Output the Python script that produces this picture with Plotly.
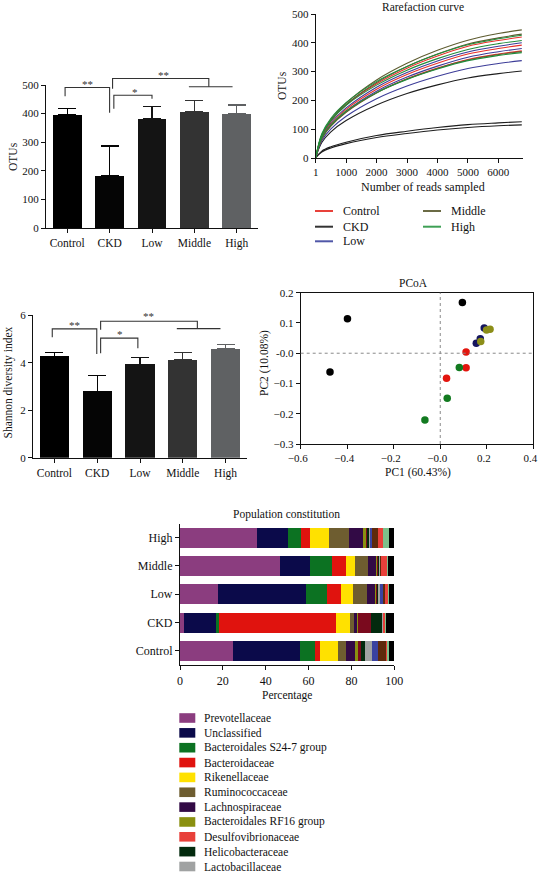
import plotly.graph_objects as go

W, H = 538, 875
FONT = "Liberation Serif"
INK = "#111111"


def PX(x):
    return x / W


def PY(y):
    return 1 - y / H


# ---------------- data ----------------
groups = ["Control", "CKD", "Low", "Middle", "High"]
bar_colors = ["#000000", "#050505", "#141414", "#333333", "#5f6163"]

otus_mean = [395, 182, 381, 406, 400]
otus_sd = [23, 105, 44, 40, 30]

shannon_mean = [4.27, 2.80, 3.94, 4.13, 4.58]
shannon_sd = [0.16, 0.67, 0.27, 0.29, 0.20]

reads = [1, 200, 500, 1000, 2000, 3000, 4000, 5000, 6000, 6770]
rare_control = [
    [1, 78, 129, 185, 258, 312, 354, 388, 408, 420],
    [1, 71, 118, 169, 239, 290, 329, 361, 380, 392],
    [1, 67, 112, 160, 227, 275, 312, 342, 361, 372],
]
rare_ckd = [
    [1, 54, 91, 130, 184, 224, 254, 278, 293, 302],
    [1, 24, 39, 55, 78, 93, 106, 116, 122, 126],
    [1, 21, 35, 50, 71, 85, 97, 106, 112, 115],
]
rare_low = [
    [1, 74, 122, 174, 246, 297, 337, 368, 388, 400],
    [1, 68, 114, 163, 232, 281, 319, 350, 369, 380],
    [1, 60, 101, 145, 206, 250, 284, 311, 328, 338],
]
rare_middle = [
    [1, 80, 134, 191, 271, 329, 374, 409, 432, 445],
    [1, 77, 129, 185, 262, 318, 361, 396, 417, 430],
    [1, 67, 111, 159, 226, 274, 311, 340, 359, 370],
]
rare_high = [
    [1, 84, 138, 192, 266, 318, 360, 393, 414, 426],
    [1, 80, 131, 183, 253, 305, 345, 377, 397, 408],
    [1, 70, 115, 163, 227, 273, 309, 338, 356, 366],
]
rare_colors = ["#e8302a", "#1e1e1e", "#3c3c98", "#5e5c30", "#228c3c"]
legend_line_colors = ["#e8413a", "#333333", "#5057a8", "#6b6b45", "#3ea055"]

pc1_control = [0.111, 0.111, 0.027]
pc2_control = [0.004, -0.048, -0.083]
pc1_ckd = [-0.474, -0.399, 0.095]
pc2_ckd = [-0.062, 0.114, 0.168]
pc1_low = [0.189, 0.172, 0.155]
pc2_low = [0.083, 0.048, 0.033]
pc1_middle = [0.199, 0.214, 0.174]
pc2_middle = [0.077, 0.079, 0.039]
pc1_high = [0.082, 0.030, -0.066]
pc2_high = [-0.047, -0.149, -0.221]
pcoa_colors = ["#e3150e", "#000000", "#15155e", "#8c8e18", "#127a20"]

families = [
    "Prevotellaceae", "Unclassified", "Bacteroidales S24-7 group", "Bacteroidaceae",
    "Rikenellaceae", "Ruminococcaceae", "Lachnospiraceae", "Bacteroidales RF16 group",
    "Erysipelotrichaceae", "Helicobacteraceae", "Lactobacillaceae", "Porphyromonadaceae",
    "Christensenellaceae", "Desulfovibrionaceae", "Veillonellaceae", "Others",
]
# percentages in group order: Control, CKD, Low, Middle, High
abund_prevotellaceae = [24.5, 2.0, 17.6, 46.7, 36.0]
abund_unclassified = [31.3, 14.8, 41.0, 14.1, 14.2]
abund_s24_7 = [7.1, 1.6, 10.0, 10.0, 6.2]
abund_bacteroidaceae = [2.3, 54.3, 6.4, 6.8, 4.3]
abund_rikenellaceae = [8.5, 6.5, 5.9, 4.1, 9.0]
abund_ruminococcaceae = [3.6, 2.1, 6.5, 6.2, 9.2]
abund_lachnospiraceae = [4.8, 1.7, 3.6, 3.6, 6.7]
abund_rf16 = [0.9, 0.2, 0.6, 0.3, 1.2]
abund_erysipelotrichaceae = [1.3, 5.9, 0.4, 1.0, 0.4]
abund_helicobacteraceae = [2.2, 5.2, 0.5, 0.5, 1.2]
abund_lactobacillaceae = [3.1, 0.6, 1.2, 0.2, 0.4]
abund_porphyromonadaceae = [2.6, 0.1, 0.9, 0.1, 0.6]
abund_christensenellaceae = [4.2, 0.1, 1.0, 0.3, 3.1]
abund_desulfovibrionaceae = [0.5, 0.7, 1.7, 2.7, 2.1]
abund_veillonellaceae = [0.4, 0.1, 0.4, 0.6, 2.8]
abund_others = [2.7, 4.1, 2.3, 2.8, 2.6]
family_colors = [
    "#8b3d7f", "#0b0a4a", "#0c7222", "#e0130e", "#ffe100", "#6e5d30", "#320a45",
    "#8a9010", "#7a0a1e", "#032a0e", "#a0a2a2", "#3a42a0", "#5e2a0c", "#e8403a",
    "#7cc08a", "#000000",
]
legend_families = [
    "Prevotellaceae", "Unclassified", "Bacteroidales S24-7 group", "Bacteroidaceae",
    "Rikenellaceae", "Ruminococcaceae", "Lachnospiraceae", "Bacteroidales RF16 group",
    "Desulfovibrionaceae", "Helicobacteraceae", "Lactobacillaceae",
]

abundances = [
    abund_prevotellaceae, abund_unclassified, abund_s24_7, abund_bacteroidaceae,
    abund_rikenellaceae, abund_ruminococcaceae, abund_lachnospiraceae, abund_rf16,
    abund_erysipelotrichaceae, abund_helicobacteraceae, abund_lactobacillaceae,
    abund_porphyromonadaceae, abund_christensenellaceae, abund_desulfovibrionaceae,
    abund_veillonellaceae, abund_others,
]

# ---------------- traces ----------------
fig = go.Figure()

for i, g in enumerate(groups):
    fig.add_trace(go.Bar(
        x=[g], y=[otus_mean[i]], xaxis="x", yaxis="y", width=0.68,
        marker=dict(color=bar_colors[i], line=dict(width=0)),
        error_y=dict(type="data", array=[otus_sd[i]], arrayminus=[0], symmetric=False,
                     color=bar_colors[i], thickness=1.3, width=9),
        showlegend=False, name=g))

for i, g in enumerate(groups):
    fig.add_trace(go.Bar(
        x=[g], y=[shannon_mean[i]], xaxis="x3", yaxis="y3", width=0.68,
        marker=dict(color=bar_colors[i], line=dict(width=0)),
        error_y=dict(type="data", array=[shannon_sd[i]], arrayminus=[0], symmetric=False,
                     color=bar_colors[i], thickness=1.3, width=9),
        showlegend=False, name=g))

rare_sets = [rare_ckd, rare_low, rare_control, rare_middle, rare_high]
rare_idx = [1, 2, 0, 3, 4]
for k, curves in zip(rare_idx, rare_sets):
    for c in curves:
        fig.add_trace(go.Scatter(
            x=reads, y=c, mode="lines", xaxis="x2", yaxis="y2",
            line=dict(color=rare_colors[k], width=1.1, shape="spline", smoothing=1.0),
            showlegend=False, name=groups[k], hoverinfo="skip"))

pcoa = [(pc1_control, pc2_control), (pc1_ckd, pc2_ckd), (pc1_low, pc2_low),
        (pc1_middle, pc2_middle), (pc1_high, pc2_high)]
for k, (px_, py_) in enumerate(pcoa):
    fig.add_trace(go.Scatter(
        x=px_, y=py_, mode="markers", xaxis="x4", yaxis="y4",
        marker=dict(size=7.5, color=pcoa_colors[k], line=dict(width=0)),
        showlegend=False, name=groups[k]))

for fam, vals, col in zip(families, abundances, family_colors):
    fig.add_trace(go.Bar(
        y=groups, x=vals, orientation="h", xaxis="x5", yaxis="y5", width=0.71,
        marker=dict(color=col, line=dict(width=0)), showlegend=False, name=fam))


# ---------------- axes ----------------
def ax(domain, **kw):
    base = dict(domain=domain, showgrid=False, zeroline=False, showline=True,
                automargin=False, ticklabeloverflow="allow",
                linecolor=INK, linewidth=1.2, ticks="outside", ticklen=4,
                tickwidth=1.2, tickcolor=INK,
                tickfont=dict(family=FONT, size=11, color=INK))
    base.update(kw)
    return base


layout = dict(
    width=W, height=H, autosize=False,
    margin=dict(l=0, r=0, t=0, b=0, pad=0),
    paper_bgcolor="white", plot_bgcolor="white",
    barmode="stack", showlegend=False,
    font=dict(family=FONT, color=INK),
    xaxis=ax([PX(46), PX(258)], anchor="y", type="category",
             categoryorder="array", categoryarray=groups, range=[-0.5, 4.5],
             tickfont=dict(family=FONT, size=11.5, color=INK)),
    yaxis=ax([PY(228), PY(85)], anchor="x", range=[0, 500],
             tickvals=[0, 100, 200, 300, 400, 500]),
    xaxis2=ax([PX(315.7), PX(522.7)], anchor="y2", range=[0, 6800],
              tickvals=[1, 1000, 2000, 3000, 4000, 5000, 6000],
              ticktext=["1", "1000", "2000", "3000", "4000", "5000", "6000"]),
    yaxis2=ax([PY(158), PY(14)], anchor="x2", range=[0, 500],
              tickvals=[0, 100, 200, 300, 400, 500]),
    xaxis3=ax([PX(33), PX(247)], anchor="y3", type="category",
              categoryorder="array", categoryarray=groups, range=[-0.5, 4.5],
              tickfont=dict(family=FONT, size=11.5, color=INK)),
    yaxis3=ax([PY(457.7), PY(315.3)], anchor="x3", range=[0, 6],
              tickvals=[0, 2, 4, 6]),
    xaxis4=ax([PX(300.7), PX(533.3)], anchor="y4", range=[-0.6, 0.4], mirror=True,
              ticklabelshift=-3,
              tickvals=[-0.6, -0.4, -0.2, 0.0, 0.2, 0.4],
              ticktext=["\u22120.6", "\u22120.4", "\u22120.2", "\u22120.0", "0.2", "0.4"]),
    yaxis4=ax([PY(444), PY(292.7)], anchor="x4", range=[-0.3, 0.2], mirror=True,
              tickvals=[0.2, 0.1, 0.0, -0.1, -0.2, -0.3],
              ticktext=["0.2", "0.1", "-0.0", "\u22120.1", "\u22120.2", "\u22120.3"]),
    xaxis5=ax([PX(180), PX(394.3)], anchor="y5", range=[0, 100],
              tickvals=[0, 20, 40, 60, 80, 100],
              tickfont=dict(family=FONT, size=12, color=INK)),
    yaxis5=ax([PY(665), PY(523.5)], anchor="x5", type="category",
              categoryorder="array", categoryarray=groups, range=[-0.5, 4.5],
              tickfont=dict(family=FONT, size=12, color=INK)),
)
fig.update_layout(**layout)

annotations = []
shapes = []


def text(x, y, s, size=11.5, angle=0, xanchor="center", yanchor="middle", yshift=0):
    annotations.append(dict(
        x=PX(x), y=PY(y), xref="paper", yref="paper", text=s, showarrow=False,
        textangle=angle, xanchor=xanchor, yanchor=yanchor, yshift=yshift,
        font=dict(family=FONT, size=size, color=INK)))


# axis titles and panel titles
text(13, 157, "OTUs", angle=-90)
text(423, 6.5, "Rarefaction curve", size=11.5)
text(282, 86, "OTUs", angle=-90)
text(423, 187, "Number of reads sampled", size=12)
text(7.5, 383, "Shannon diversity index", size=11.5, angle=-90)
text(413, 283.3, "PCoA", size=11.5)
text(265, 363, "PC2 (10.08%)", size=11.5, angle=-90)
text(418, 472.7, "PC1 (60.43%)", size=11.5)
text(286.7, 514, "Population constitution", size=11.5)
text(286.7, 695, "Percentage", size=11.5)


# significance brackets (data coordinates converted to paper)
def xa(i):
    return PX(46 + (i + 0.5) * 42.4)


def ya(v):
    return PY(228 - v * 143 / 500)


def xc(i):
    return PX(33 + (i + 0.5) * 42.8)


def yc(v):
    return PY(457.7 - v * 142.4 / 6)


def path(pts, fx, fy):
    d = "M " + " L ".join(f"{fx(a):.5f},{fy(b):.5f}" for a, b in pts)
    shapes.append(dict(type="path", path=d, xref="paper", yref="paper",
                       line=dict(color="#333333", width=1.1)))


def star(i, v, s, fx, fy):
    annotations.append(dict(x=fx(i), y=fy(v), xref="paper", yref="paper", text=s,
                            showarrow=False, xanchor="center", yanchor="middle",
                            yshift=-2, font=dict(family=FONT, size=11, color="#333333")))


path([(-0.05, 461), (-0.05, 491), (1.0, 491), (1.0, 403)], xa, ya)
path([(1.1, 417), (1.1, 464), (2.0, 464), (2.0, 452)], xa, ya)
path([(1.07, 487), (1.07, 523), (3.34, 523), (3.34, 494)], xa, ya)
path([(2.87, 494), (3.9, 494)], xa, ya)
star(0.49, 510, "**", xa, ya)
star(1.6, 482, "*", xa, ya)
star(2.26, 542, "**", xa, ya)

path([(-0.05, 5.08), (-0.05, 5.43), (0.99, 5.43), (0.99, 4.37)], xc, yc)
path([(1.08, 4.40), (1.08, 5.04), (1.95, 5.04), (1.95, 4.61)], xc, yc)
path([(1.08, 5.39), (1.08, 5.75), (3.34, 5.75), (3.34, 5.44)], xc, yc)
path([(2.86, 5.44), (3.88, 5.44)], xc, yc)
star(0.46, 5.69, "**", xc, yc)
star(1.53, 5.30, "*", xc, yc)
star(2.21, 6.06, "**", xc, yc)

# PCoA dotted zero lines
shapes.append(dict(type="line", xref="x4", yref="y4 domain", x0=0, x1=0, y0=0, y1=1,
                   line=dict(color="#8a8a8a", width=1, dash="dot")))
shapes.append(dict(type="line", xref="x4 domain", yref="y4", x0=0, x1=1, y0=0, y1=0,
                   line=dict(color="#8a8a8a", width=1, dash="dot")))

# rarefaction legend (two columns)
leg_pos = [(315, 211), (315, 226.7), (315, 241.3), (423, 211), (423, 226.7)]
for k, (lx, ly) in enumerate(leg_pos):
    shapes.append(dict(type="line", xref="paper", yref="paper",
                       x0=PX(lx), x1=PX(lx + 18), y0=PY(ly), y1=PY(ly),
                       line=dict(color=legend_line_colors[k], width=2)))
    text(lx + 25.5, ly, groups[k], size=12, xanchor="left")

# family legend
fam_color = dict(zip(families, family_colors))
for r, fam in enumerate(legend_families):
    cy = 718 + r * 14.85
    shapes.append(dict(type="rect", xref="paper", yref="paper",
                       x0=PX(179.3), x1=PX(195.3), y0=PY(cy - 4.8), y1=PY(cy + 4.8),
                       fillcolor=fam_color[fam], line=dict(width=0)))
    text(202.3, cy, fam, size=11.5, xanchor="left")

fig.update_layout(annotations=annotations, shapes=shapes)
fig.write_html(
    "out.html",
    config={"displayModeBar": False},
    post_script="document.body.style.margin='0';document.body.style.overflow='hidden';",
)
